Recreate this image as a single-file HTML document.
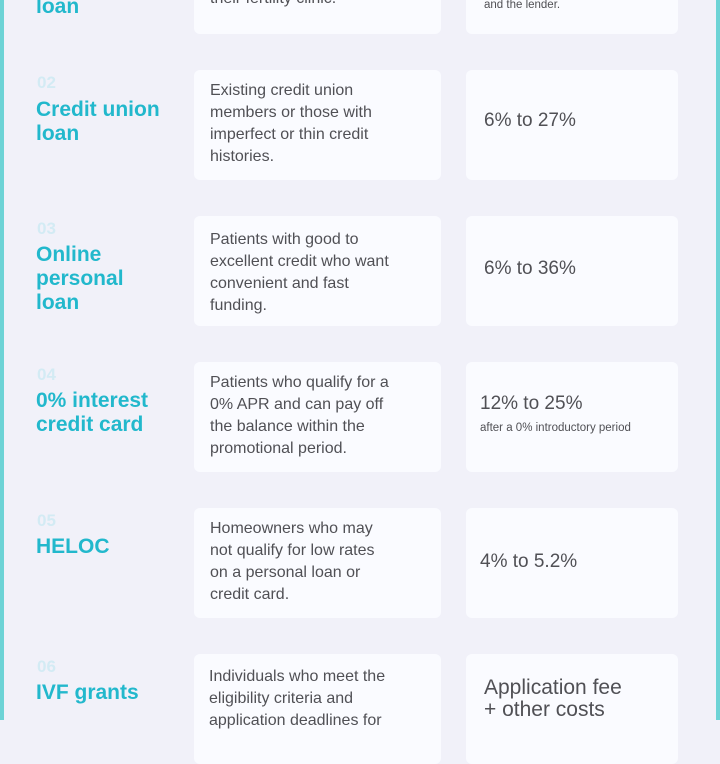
<!DOCTYPE html>
<html><head><meta charset="utf-8"><style>
*{margin:0;padding:0;box-sizing:border-box}
body{width:720px;height:720px;overflow:hidden;background:#f1f1f9;font-family:"Liberation Sans",sans-serif;position:relative}
.bl{position:absolute;top:0;left:0;width:4px;height:720px;background:#6dd3d6}
.br{position:absolute;top:0;right:0;width:4px;height:720px;background:#6dd3d6}
.num{position:absolute;left:37px;font-size:17px;font-weight:bold;color:#d3ebf4}
.title{position:absolute;left:36px;font-size:21px;font-weight:bold;color:#22b8cc;line-height:24px}
.card{position:absolute;background:#fafbff;border-radius:6px}
.c1{left:194px;width:247px;height:110px}
.c2{left:466px;width:212px;height:110px}
.txt{position:absolute;font-size:16px;line-height:22px;color:#505055}
.rate{position:absolute;font-size:19px;color:#505055;line-height:24px}
.small{position:absolute;font-size:11.5px;color:#505055}
</style></head><body>
<div class="bl"></div>
<div class="br"></div>

<!-- row 1 -->
<div class="title" style="top:-5px">loan</div>
<div class="card c1" style="top:-76px"></div>
<div class="txt" style="left:210px;top:-12px">their fertility clinic.</div>
<div class="card c2" style="top:-76px"></div>
<div class="small" style="left:484px;top:-1px">and the lender.</div>

<!-- row 2 -->
<div class="num" style="top:73px">02</div>
<div class="title" style="top:98px">Credit union<br>loan</div>
<div class="card c1" style="top:70px"></div>
<div class="txt" style="left:210px;top:80px">Existing credit union<br>members or those with<br>imperfect or thin credit<br>histories.</div>
<div class="card c2" style="top:70px"></div>
<div class="rate" style="left:484px;top:109px">6% to 27%</div>

<!-- row 3 -->
<div class="num" style="top:219px">03</div>
<div class="title" style="top:243px">Online<br>personal<br>loan</div>
<div class="card c1" style="top:216px"></div>
<div class="txt" style="left:210px;top:229px">Patients with good to<br>excellent credit who want<br>convenient and fast<br>funding.</div>
<div class="card c2" style="top:216px"></div>
<div class="rate" style="left:484px;top:257px">6% to 36%</div>

<!-- row 4 -->
<div class="num" style="top:365px">04</div>
<div class="title" style="top:389px">0% interest<br>credit card</div>
<div class="card c1" style="top:362px"></div>
<div class="txt" style="left:210px;top:372px">Patients who qualify for a<br>0% APR and can pay off<br>the balance within the<br>promotional period.</div>
<div class="card c2" style="top:362px"></div>
<div class="rate" style="left:480px;top:392px">12% to 25%</div>
<div class="small" style="left:480px;top:422px">after a 0% introductory period</div>

<!-- row 5 -->
<div class="num" style="top:511px">05</div>
<div class="title" style="top:535px">HELOC</div>
<div class="card c1" style="top:508px"></div>
<div class="txt" style="left:210px;top:518px">Homeowners who may<br>not qualify for low rates<br>on a personal loan or<br>credit card.</div>
<div class="card c2" style="top:508px"></div>
<div class="rate" style="left:480px;top:550px">4% to 5.2%</div>

<!-- row 6 -->
<div class="num" style="top:657px">06</div>
<div class="title" style="top:681px">IVF grants</div>
<div class="card c1" style="top:654px"></div>
<div class="txt" style="left:209px;top:666px">Individuals who meet the<br>eligibility criteria and<br>application deadlines for</div>
<div class="card c2" style="top:654px"></div>
<div class="rate" style="left:484px;top:677px;font-size:21px;line-height:22px">Application fee<br>+ other costs</div>
</body></html>
